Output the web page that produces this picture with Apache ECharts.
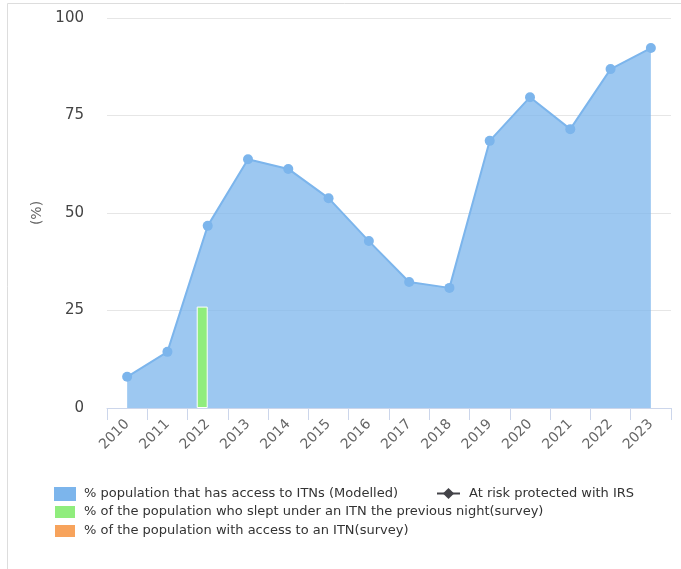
<!DOCTYPE html>
<html>
<head>
<meta charset="utf-8">
<script src="https://cdn.jsdelivr.net/npm/echarts@6/dist/echarts.min.js"></script>
<style>
  html, body { margin: 0; padding: 0; background: #fff; }
  #chart { width: 681px; height: 569px; }
</style>
</head>
<body>
<div id="chart"></div>
<script>
  // years on the x axis
  var years = ['2010', '2011', '2012', '2013', '2014', '2015', '2016',
    '2017', '2018', '2019', '2020', '2021', '2022', '2023'];
  // % population that has access to ITNs (Modelled)
  var accessModelled = [8, 14.4, 46.7, 63.8, 61.3, 53.8, 42.8, 32.3, 30.8, 68.5, 79.7, 71.5, 86.9, 92.3];
  // % who slept under an ITN the previous night (survey)
  var sleptSurvey = [null, null, 26, null, null, null, null, null, null, null, null, null, null, null];
  // % with access to an ITN (survey)
  var accessSurvey = [null, null, null, null, null, null, null, null, null, null, null, null, null, null];
  // at risk protected with IRS
  var irs = [null, null, null, null, null, null, null, null, null, null, null, null, null, null];
  var yTicks = [0, 25, 50, 75, 100];

  var names = [
    '% population that has access to ITNs (Modelled)',
    'At risk protected with IRS',
    '% of the population who slept under an ITN the previous night(survey)',
    '% of the population with access to an ITN(survey)'
  ];

  var myChart = echarts.init(document.getElementById('chart'));
  myChart.setOption({
    animation: false,
    textStyle: { fontFamily: 'DejaVu Sans' },
    graphic: [{
      type: 'rect',
      shape: { x: 7.5, y: 3.5, width: 700, height: 600 },
      style: { fill: 'none', stroke: '#dddddd', lineWidth: 1 },
      silent: true
    }],
    grid: { left: 107, right: 10, top: 18, bottom: 161 },
    legend: [{
      data: [names[0], names[2], names[3]],
      orient: 'vertical',
      left: 53,
      top: 487,
      padding: 0,
      icon: 'rect',
      itemWidth: 22,
      itemHeight: 14,
      itemGap: 3,
      textStyle: { fontSize: 13, color: '#333', padding: [0, 0, 0, 3] }
    }, {
      data: [names[1]],
      left: 436,
      top: 487,
      padding: 0,
      itemWidth: 23,
      itemHeight: 14,
      textStyle: { fontSize: 13, color: '#333', padding: [0, 0, 0, 4] }
    }],
    xAxis: {
      type: 'category',
      data: years,
      boundaryGap: true,
      axisLine: { lineStyle: { color: '#ccd6eb' } },
      axisTick: { show: true, length: 12, lineStyle: { color: '#ccd6eb' } },
      axisLabel: { rotate: 45, fontSize: 14, color: '#666', margin: 14, interval: 0 }
    },
    yAxis: {
      type: 'value',
      min: yTicks[0],
      max: yTicks[yTicks.length - 1],
      interval: 25,
      name: '(%)',
      nameLocation: 'middle',
      nameRotate: 90,
      nameGap: 62,
      nameTextStyle: { fontSize: 14, color: '#666' },
      axisLine: { show: false },
      axisTick: { show: false },
      axisLabel: { fontSize: 15, color: '#444', margin: 23 },
      splitLine: { lineStyle: { color: '#e6e6e6' } }
    },
    series: [
      {
        name: names[0],
        type: 'line',
        data: accessModelled,
        symbol: 'circle',
        symbolSize: 10,
        z: 2,
        itemStyle: { color: '#7cb5ec' },
        lineStyle: { color: '#7cb5ec', width: 2 },
        areaStyle: { color: '#7cb5ec', opacity: 0.75 }
      },
      {
        name: names[1],
        type: 'line',
        data: irs,
        symbol: 'diamond',
        symbolSize: 10,
        z: 4,
        itemStyle: { color: '#434348' },
        lineStyle: { color: '#434348', width: 2 }
      },
      {
        name: names[2],
        type: 'bar',
        data: sleptSurvey,
        barWidth: 11,
        barGap: 0,
        z: 5,
        itemStyle: { color: '#90ed7d', borderColor: '#fff', borderWidth: 1 }
      },
      {
        name: names[3],
        type: 'bar',
        data: accessSurvey,
        barWidth: 11,
        barGap: 0,
        z: 5,
        itemStyle: { color: '#f7a35c', borderColor: '#fff', borderWidth: 1 }
      }
    ]
  });
</script>
</body>
</html>
